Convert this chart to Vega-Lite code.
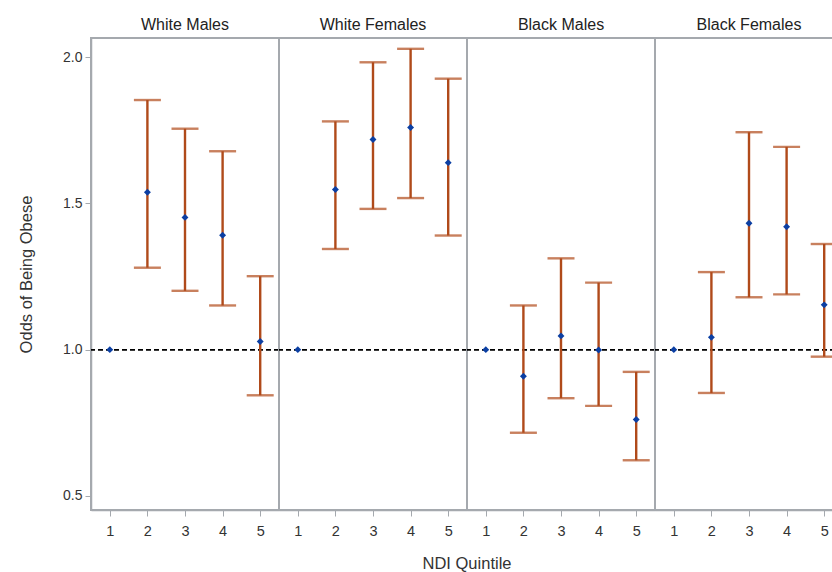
{
  "$schema": "https://vega.github.io/schema/vega-lite/v6.json",
  "padding": {"left": 18, "top": 17, "right": 0, "bottom": 0},
  "bounds": "flush",
  "data": {"values": [
    {"group": "White Males", "quintile": 1, "or": 1.0, "lo": null, "hi": null},
    {"group": "White Males", "quintile": 2, "or": 1.538, "lo": 1.280, "hi": 1.853},
    {"group": "White Males", "quintile": 3, "or": 1.452, "lo": 1.201, "hi": 1.755},
    {"group": "White Males", "quintile": 4, "or": 1.391, "lo": 1.151, "hi": 1.678},
    {"group": "White Males", "quintile": 5, "or": 1.028, "lo": 0.844, "hi": 1.251},
    {"group": "White Females", "quintile": 1, "or": 1.0, "lo": null, "hi": null},
    {"group": "White Females", "quintile": 2, "or": 1.547, "lo": 1.344, "hi": 1.780},
    {"group": "White Females", "quintile": 3, "or": 1.718, "lo": 1.481, "hi": 1.982},
    {"group": "White Females", "quintile": 4, "or": 1.759, "lo": 1.518, "hi": 2.028},
    {"group": "White Females", "quintile": 5, "or": 1.639, "lo": 1.390, "hi": 1.926},
    {"group": "Black Males", "quintile": 1, "or": 1.0, "lo": null, "hi": null},
    {"group": "Black Males", "quintile": 2, "or": 0.909, "lo": 0.716, "hi": 1.151},
    {"group": "Black Males", "quintile": 3, "or": 1.047, "lo": 0.834, "hi": 1.312},
    {"group": "Black Males", "quintile": 4, "or": 0.999, "lo": 0.808, "hi": 1.229},
    {"group": "Black Males", "quintile": 5, "or": 0.761, "lo": 0.622, "hi": 0.924},
    {"group": "Black Females", "quintile": 1, "or": 1.0, "lo": null, "hi": null},
    {"group": "Black Females", "quintile": 2, "or": 1.042, "lo": 0.852, "hi": 1.265},
    {"group": "Black Females", "quintile": 3, "or": 1.432, "lo": 1.179, "hi": 1.743},
    {"group": "Black Females", "quintile": 4, "or": 1.420, "lo": 1.189, "hi": 1.693},
    {"group": "Black Females", "quintile": 5, "or": 1.153, "lo": 0.976, "hi": 1.361}
  ]},
  "facet": {
    "column": {
      "field": "group", "type": "nominal",
      "sort": ["White Males", "White Females", "Black Males", "Black Females"],
      "header": {
        "title": "NDI Quintile", "titleOrient": "bottom", "titleFontSize": 16.5, "titleFont": "Liberation Sans", "titleColor": "#333333", "titleFontWeight": "normal", "titlePadding": 8,
        "labelOrient": "top", "labelFontSize": 16, "labelFont": "Liberation Sans", "labelColor": "#222222", "labelPadding": 5
      }
    }
  },
  "spacing": 0,
  "spec": {
    "width": 188,
    "height": 472,
    "encoding": {
      "x": {"field": "quintile", "type": "ordinal", "scale": {"type": "point", "padding": 0.5},
            "axis": {"title": null, "labelAngle": 0, "labelFontSize": 14.5, "labelColor": "#333333", "tickColor": "#a5a9ae", "domainColor": "#a5a9ae", "domainWidth": 1.5, "tickSize": 6, "labelPadding": 8}}
    },
    "layer": [
      {
        "mark": {"type": "rule", "strokeDash": [5, 3], "color": "#000000", "strokeWidth": 1.3},
        "encoding": {"x": null, "y": {"datum": 1}}
      },
      {
        "transform": [{"filter": "datum.lo != null"}],
        "mark": {"type": "rule", "color": "#b04a1a", "strokeWidth": 2.4},
        "encoding": {
          "y": {"field": "lo", "type": "quantitative"},
          "y2": {"field": "hi"}
        }
      },
      {
        "transform": [{"filter": "datum.lo != null"}],
        "mark": {"type": "tick", "color": "#b04a1a", "size": 27, "thickness": 2.4, "orient": "horizontal"},
        "encoding": {"y": {"field": "lo", "type": "quantitative"}}
      },
      {
        "transform": [{"filter": "datum.lo != null"}],
        "mark": {"type": "tick", "color": "#b04a1a", "size": 27, "thickness": 2.4, "orient": "horizontal"},
        "encoding": {"y": {"field": "hi", "type": "quantitative"}}
      },
      {
        "mark": {"type": "point", "shape": "diamond", "filled": true, "color": "#0b3fa3", "size": 48, "opacity": 1},
        "encoding": {
          "y": {"field": "or", "type": "quantitative",
                "scale": {"domain": [0.452, 2.065], "nice": false, "zero": false},
                "axis": {"title": "Odds of Being Obese", "values": [0.5, 1.0, 1.5, 2.0], "format": ".1f", "grid": false, "labelFontSize": 14, "labelColor": "#333333", "titleFontSize": 16.5, "titleColor": "#333333", "titleFontWeight": "normal", "tickColor": "#a5a9ae", "domainColor": "#a5a9ae", "domainWidth": 1.5, "tickSize": 6, "labelPadding": 3, "titlePadding": 28}}
        }
      }
    ]
  },
  "config": {
    "font": "Liberation Sans",
    "view": {"stroke": "#a5a9ae", "strokeWidth": 2},
    "axis": {"labelFont": "Liberation Sans", "titleFont": "Liberation Sans"}
  }
}
